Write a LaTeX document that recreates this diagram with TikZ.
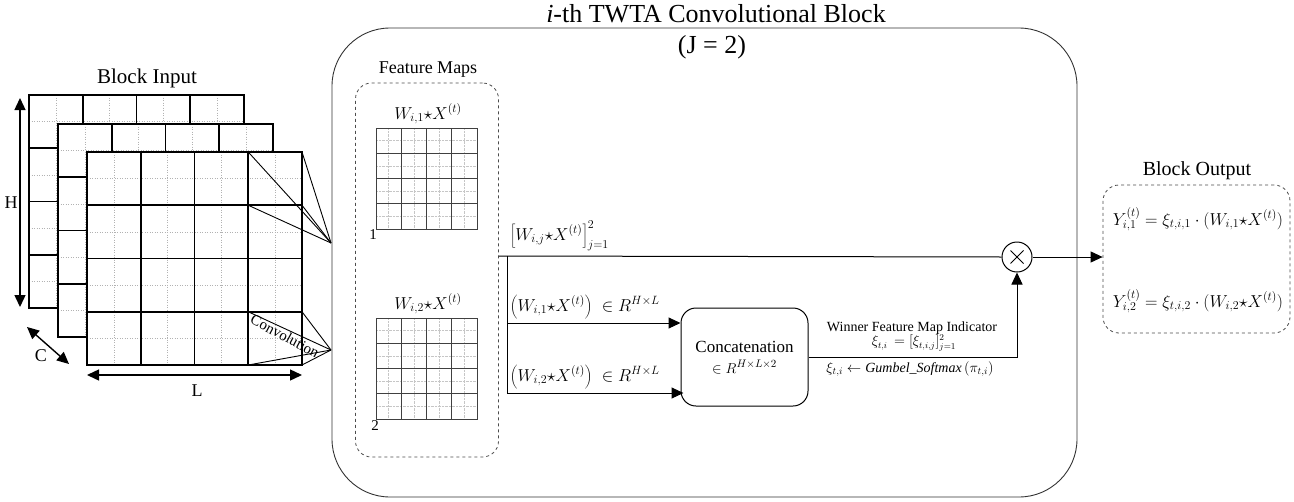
\documentclass[tikz,border=0pt]{standalone}
\usepackage{fontspec}
\setmainfont{LiberationSerif}[Extension=.ttf,UprightFont=*-Regular,ItalicFont=*-Italic,BoldFont=*-Bold,BoldItalicFont=*-BoldItalic]
\usetikzlibrary{arrows.meta,calc}
\tikzset{
  major/.style={line width=1.8pt,black},
  minor/.style={line width=0.5pt,gray!60,dotted},
  fmmajor/.style={line width=1pt,black!75},
  fmminor/.style={line width=0.4pt,gray!45,densely dotted},
  conn/.style={line width=1pt,black},
  arr/.style={conn,-{Triangle[length=12pt,width=11pt]}},
  darr/.style={line width=1.4pt,{Triangle[length=12pt,width=11pt]}-{Triangle[length=12pt,width=11pt]}},
  dbox/.style={draw=black!70,dashed,line width=0.8pt,rounded corners=16pt},
  lbl/.style={inner sep=0pt,font=\fontsize{17}{19}\selectfont},
}
\newcommand\inlayer[2]{%
  \begin{scope}[shift={(#1,#2)}]
    \fill[white] (0,0) rectangle (215,213);
    \foreach \i in {1,3,5,7} {
      \draw[minor] (\i*26.875,0) -- (\i*26.875,213);
      \draw[minor] (0,\i*26.625) -- (215,\i*26.625);
    }
    \foreach \i in {1,2,3} {
      \draw[major] (\i*53.75,0) -- (\i*53.75,213);
      \draw[major] (0,\i*53.25) -- (215,\i*53.25);
    }
    \draw[major] (0,0) rectangle (215,213);
  \end{scope}}
\newcommand\fmgrid[2]{%
  \begin{scope}[shift={(#1,#2)}]
    \foreach \i in {1,3,5,7} {
      \draw[fmminor] (\i*12.625,0) -- (\i*12.625,101);
      \draw[fmminor] (0,\i*12.625) -- (101,\i*12.625);
    }
    \foreach \i in {1,2,3} {
      \draw[fmmajor] (\i*25.25,0) -- (\i*25.25,101);
      \draw[fmmajor] (0,\i*25.25) -- (101,\i*25.25);
    }
    \draw[fmmajor] (0,0) rectangle (101,101);
  \end{scope}}
\begin{document}
\begin{tikzpicture}[x=1pt,y=-1pt]
\useasboundingbox (0,0) rectangle (1294,501);

% ---------- big block ----------
\node[draw=black!80,line width=0.9pt,rounded corners=58pt,minimum width=745pt,minimum height=469pt,inner sep=0pt] (block) at (704.5,262.5) {};
\node[font=\fontsize{26}{28}\selectfont] (title) at (716,14) {\textit{i}-th TWTA Convolutional Block};
\node[font=\fontsize{26}{28}\selectfont] (jtwo) at (712,47) {(J = 2)};

% ---------- block input ----------
\node[font=\fontsize{21}{23}\selectfont] (bin) at (147,78) {Block Input};
\inlayer{29}{95}
\inlayer{58}{124}
\inlayer{87}{152}

\coordinate (apex1) at (331,243);
\coordinate (apex2) at (331,350);
\foreach \p in {(248.25,152),(302,152),(248.25,205.25),(302,205.25)}
  \draw[line width=0.9pt] \p -- (apex1);
\foreach \p in {(248.25,311.75),(302,311.75),(248.25,365),(302,365)}
  \draw[line width=0.9pt] \p -- (apex2);
\node[font=\fontsize{15}{17}\selectfont,rotate=-28,inner sep=0pt] (convlbl) at (285,336) {Convolution};

\coordinate (hA) at (20,98);  \coordinate (hB) at (20,307);
\draw[darr] (hA) -- (hB);
\node[font=\fontsize{18}{20}\selectfont] (hl) at (11,203) {H};
\coordinate (lA) at (87,375); \coordinate (lB) at (302,375);
\draw[darr] (lA) -- (lB);
\node[font=\fontsize{18}{20}\selectfont] (ll) at (197,391) {L};
\coordinate (cA) at (27,327); \coordinate (cB) at (69,364);
\draw[darr] (cA) -- (cB);
\node[font=\fontsize{18}{20}\selectfont] (cl) at (41,356) {C};

% ---------- feature maps ----------
\node[font=\fontsize{18}{20}\selectfont] (fmlabel) at (428,70) {Feature Maps};
\node[dbox,minimum width=143pt,minimum height=374pt,inner sep=0pt] (fm) at (427,270) {};
\fmgrid{376}{128}
\fmgrid{376}{318}
\node[lbl] (f1) at (428,114) {$W_{i,1}{\star}X^{(t)}$};
\node[lbl] (f2) at (428,304) {$W_{i,2}{\star}X^{(t)}$};
\node[font=\fontsize{15}{17}\selectfont,inner sep=0pt] (n1) at (373,235) {1};
\node[font=\fontsize{15}{17}\selectfont,inner sep=0pt] (n2) at (375,426) {2};

% ---------- concatenation ----------
\node[draw,line width=1pt,rounded corners=15pt,minimum width=127pt,minimum height=98pt,inner sep=0pt] (concat) at (744.5,357) {};
\node[font=\fontsize{17}{19}\selectfont] (ctext) at (744.5,347) {Concatenation};
\node[lbl,font=\fontsize{15}{17}\selectfont] (cdim) at (744.5,367) {$\in R^{H\times L\times 2}$};

% ---------- multiply ----------
\node[draw,circle,line width=1pt,minimum size=30pt,inner sep=0pt] (mult) at (1017,257) {};
\draw[line width=0.9pt] ($(mult)+(-6.5,-6.5)$) -- ($(mult)+(6.5,6.5)$);
\draw[line width=0.9pt] ($(mult)+(-6.5,6.5)$) -- ($(mult)+(6.5,-6.5)$);

% ---------- block output ----------
\node[font=\fontsize{20}{22}\selectfont] (bout) at (1197,171) {Block Output};
\node[dbox,minimum width=187pt,minimum height=148pt,inner sep=0pt] (out) at (1196.5,259) {};
\node[lbl,font=\fontsize{16.5}{18}\selectfont] (y1) at (1198,219) {$Y_{i,1}^{(t)}=\xi_{t,i,1}\cdot(W_{i,1}{\star}X^{(t)})$};
\node[lbl,font=\fontsize{16.5}{18}\selectfont] (y2) at (1198,301) {$Y_{i,2}^{(t)}=\xi_{t,i,2}\cdot(W_{i,2}{\star}X^{(t)})$};

% ---------- connectors ----------
\coordinate (fmout) at (fm.east |- 0,256);
\coordinate (split) at (507,256);
\coordinate (b1) at (507,323);
\coordinate (b2) at (507,393);
\draw[conn] (fmout) -- (mult.west);
\draw[conn] (split) -- (b2);
\draw[arr] (b1) -- (concat.west |- b1);
\draw[arr] (b2) -- ($(concat.west |- b2)+(3,0)$);
\draw[arr] (concat.east) -| (mult.south);
\draw[arr] (mult.east) -- (mult.east -| out.west);

\node[lbl,font=\fontsize{18}{20}\selectfont,anchor=south west] (lab0) at (510,251) {$\left[W_{i,j}{\star}X^{(t)}\right]_{j=1}^{2}$};
\node[lbl,anchor=south west] (lab1) at (510,319) {$\left(W_{i,1}{\star}X^{(t)}\right)\;\in R^{H\times L}$};
\node[lbl,anchor=south west] (lab2) at (510,389) {$\left(W_{i,2}{\star}X^{(t)}\right)\;\in R^{H\times L}$};

\node[font=\fontsize{14}{16}\selectfont] (win) at (912,328) {Winner Feature Map Indicator};
\node[lbl,font=\fontsize{13.5}{15}\selectfont] (xi) at (914,343) {$\xi_{t,i}\,=[\xi_{t,i,j}]_{j=1}^{2}$};
\node[lbl,font=\fontsize{14}{16}\selectfont] (gum) at (910,369) {$\xi_{t,i}\leftarrow \mathit{Gumbel\_Softmax}\left(\pi_{t,i}\right)$};
\end{tikzpicture}
\end{document}
